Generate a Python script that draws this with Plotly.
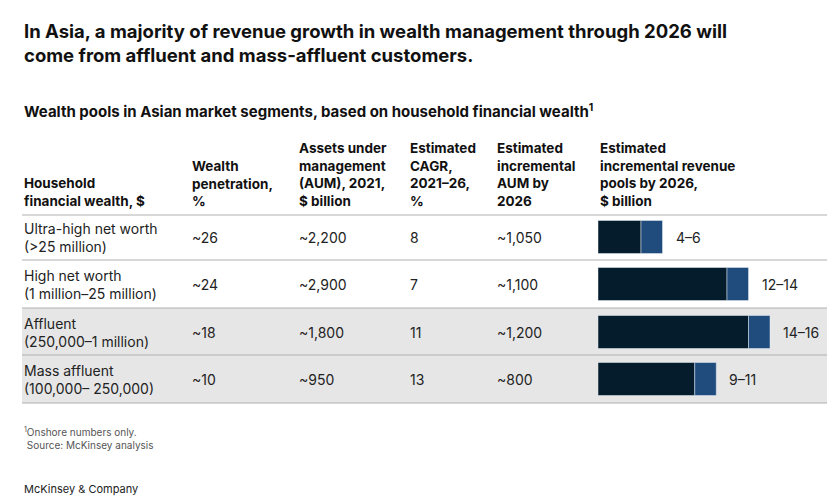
import plotly.graph_objects as go

segments = ["Ultra-high net worth<br>(>25 million)", "High net worth<br>(1 million\u201325 million)",
            "Affluent<br>(250,000\u20131 million)", "Mass affluent<br>(100,000\u2013 250,000)"]
penetration = ["~26", "~24", "~18", "~10"]
aum_2021 = ["~2,200", "~2,900", "~1,800", "~950"]
cagr = ["8", "7", "11", "13"]
incr_aum = ["~1,050", "~1,100", "~1,200", "~800"]
rev_low = [4, 12, 14, 9]
rev_high = [6, 14, 16, 11]
rev_labels = ["4\u20136", "12\u201314", "14\u201316", "9\u201311"]
headers = ["Household<br>financial wealth, $", "Wealth<br>penetration,<br>%",
           "Assets under<br>management<br>(AUM), 2021,<br>$ billion", "Estimated<br>CAGR,<br>2021\u201326,<br>%",
           "Estimated<br>incremental<br>AUM by<br>2026", "Estimated<br>incremental revenue<br>pools by 2026,<br>$ billion"]

W, H = 835, 502
row_y = [229, 276, 324, 371]
col_x = [14, 182, 289, 400, 487, 590]
DARK, BLUE, TXT = "#051c2c", "#1f4b7d", "#222222"
FONT = "Inter, Liberation Sans, sans-serif"

fig = go.Figure()
fig.add_trace(go.Bar(y=row_y, x=rev_low, orientation="h", marker_color=DARK, width=33, hoverinfo="skip"))
fig.add_trace(go.Bar(y=row_y, x=[h - l for h, l in zip(rev_high, rev_low)], base=rev_low,
                     orientation="h", marker_color=BLUE, width=33, hoverinfo="skip"))

shapes = [dict(type="rect", xref="paper", yref="y", x0=14 / W, x1=820 / W, y0=300, y1=395,
               fillcolor="#e6e6e6", line_width=0, layer="below")]
for yy in [207, 252, 300, 347, 395]:
    shapes.append(dict(type="line", xref="paper", yref="y", x0=14 / W, x1=820 / W, y0=yy, y1=yy,
                       line=dict(color="#b0b0b0", width=1), layer="below"))

ann = []
def t(x, y, s, size=14, bold=False, ya="middle", color=TXT):
    ann.append(dict(x=x / W, y=y, xref="paper", yref="y", text=f"<b>{s}</b>" if bold else s, showarrow=False,
                    xanchor="left", yanchor=ya, align="left", font=dict(size=size, color=color, family=FONT)))

t(14, 35, "In Asia, a majority of revenue growth in wealth management through 2026 will<br>come from affluent and mass-affluent customers.", 18.5, True, color="#111111")
t(14, 103, "Wealth pools in Asian market segments, based on household financial wealth<sup>1</sup>", 15, True, color="#111111")
for x, h in zip(col_x, headers):
    t(x, 203, h, 13.5, True, ya="bottom", color="#111111")
for i, y in enumerate(row_y):
    t(col_x[0], y, segments[i])
    t(col_x[1], y, penetration[i])
    t(col_x[2], y, aum_2021[i])
    t(col_x[3], y, cagr[i])
    t(col_x[4], y, incr_aum[i])
    ann.append(dict(x=rev_high[i], y=y, xref="x", yref="y", text=rev_labels[i], showarrow=False,
                    xanchor="left", xshift=11, font=dict(size=14, color=TXT, family=FONT)))
t(14, 430, "<sup>1</sup>Onshore numbers only.<br> Source: McKinsey analysis", 10, color="#555555")
t(14, 481, "McKinsey & Company", 11, color="#222222")

fig.update_layout(
    width=W, height=H, margin=dict(l=0, r=0, t=0, b=0), showlegend=False, barmode="overlay",
    plot_bgcolor="rgba(0,0,0,0)", paper_bgcolor="white", shapes=shapes, annotations=ann,
    xaxis=dict(domain=[590 / W, 1], range=[0, (W - 590) / 10.75], visible=False, fixedrange=True),
    yaxis=dict(range=[H, 0], visible=False, fixedrange=True),
)
fig.write_html("out.html")
